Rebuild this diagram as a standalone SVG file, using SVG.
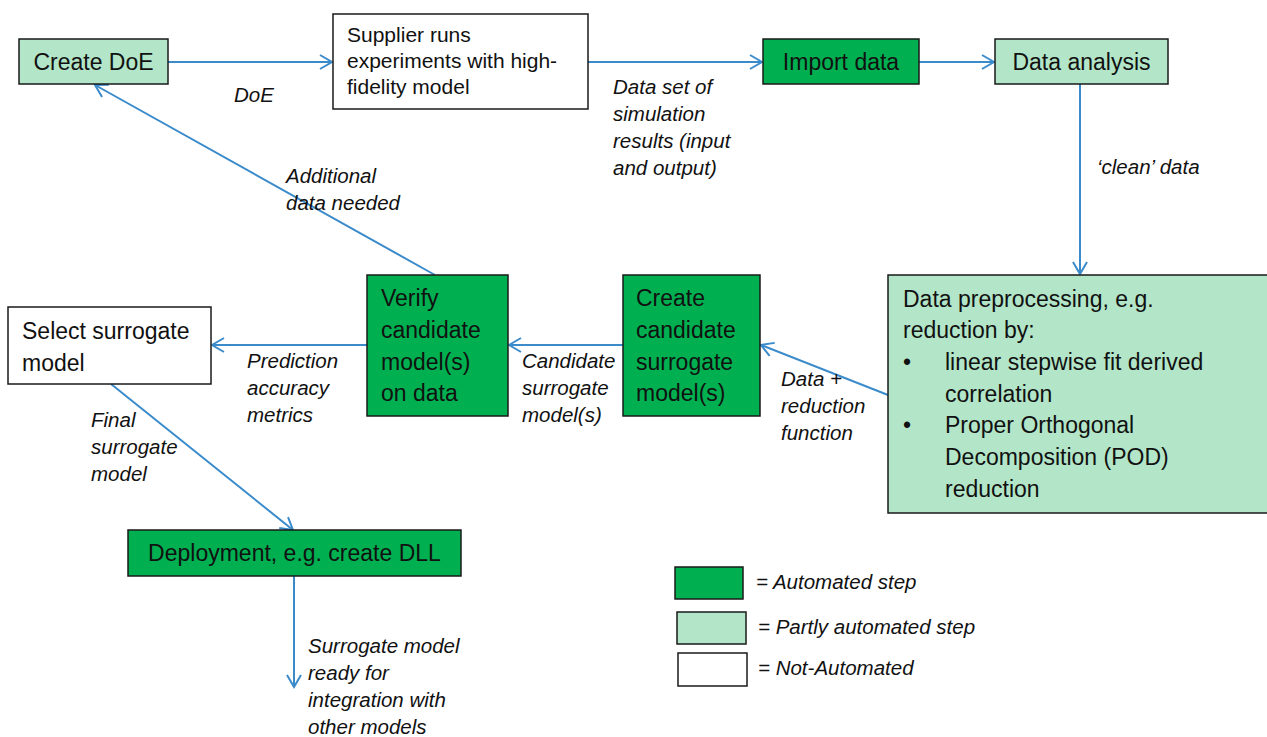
<svg xmlns="http://www.w3.org/2000/svg" width="1267" height="737" viewBox="0 0 1267 737">
<style>
.box{stroke:#1a1a1a;stroke-width:1.5}
.auto{fill:#00b050}
.part{fill:#b3e6c8}
.none{fill:#ffffff}
.t{font-family:"Liberation Sans",Arial,sans-serif;font-size:23px;fill:#111}
.ts{font-family:"Liberation Sans",Arial,sans-serif;font-size:21px;fill:#111}
.lb{font-family:"Liberation Sans",Arial,sans-serif;font-size:20.5px;font-style:italic;fill:#111}
.c{stroke:#3b8bcb;stroke-width:2;fill:none;marker-end:url(#ah)}
</style>
<defs>
<marker id="ah" markerUnits="userSpaceOnUse" markerWidth="16" markerHeight="18" refX="13" refY="8" orient="auto">
<path d="M1,1 L13,8 L1,15" fill="none" stroke="#3b8bcb" stroke-width="2"/>
</marker>
</defs>
<g id="connectors">
<line class="c" x1="168" y1="62" x2="332" y2="62"/>
<line class="c" x1="588" y1="62" x2="762" y2="62"/>
<line class="c" x1="919" y1="62" x2="994" y2="62"/>
<line class="c" x1="1080" y1="84" x2="1080" y2="274"/>
<line class="c" x1="888" y1="395" x2="761" y2="345"/>
<line class="c" x1="623" y1="345" x2="509" y2="345"/>
<line class="c" x1="367" y1="345" x2="212" y2="345"/>
<line class="c" x1="435" y1="275" x2="95" y2="85"/>
<line class="c" x1="111" y1="384" x2="293" y2="530"/>
<line class="c" x1="294" y1="576" x2="294" y2="687"/>
</g>
<g id="labels">
<text class="lb" x="234" y="102">DoE</text>
<text class="lb" x="613" y="94">Data set of</text>
<text class="lb" x="613" y="121">simulation</text>
<text class="lb" x="613" y="148">results (input</text>
<text class="lb" x="613" y="175">and output)</text>
<text class="lb" x="1097" y="174">‘clean’ data</text>
<text class="lb" x="286" y="183">Additional</text>
<text class="lb" x="286" y="210">data needed</text>
<text class="lb" x="247" y="368">Prediction</text>
<text class="lb" x="247" y="395">accuracy</text>
<text class="lb" x="247" y="422">metrics</text>
<text class="lb" x="522" y="368">Candidate</text>
<text class="lb" x="522" y="395">surrogate</text>
<text class="lb" x="522" y="422">model(s)</text>
<text class="lb" x="781" y="386">Data +</text>
<text class="lb" x="781" y="413">reduction</text>
<text class="lb" x="781" y="440">function</text>
<text class="lb" x="91" y="427">Final</text>
<text class="lb" x="91" y="454">surrogate</text>
<text class="lb" x="91" y="481">model</text>
<text class="lb" x="308" y="653">Surrogate model</text>
<text class="lb" x="308" y="680">ready for</text>
<text class="lb" x="308" y="707">integration with</text>
<text class="lb" x="308" y="734">other models</text>
</g>
<g id="create-doe">
<rect class="box part" x="19" y="39" width="149" height="45"/>
<text class="t" x="93.5" y="70" text-anchor="middle">Create DoE</text>
</g>
<g id="supplier">
<rect class="box none" x="333" y="14" width="255" height="95"/>
<text class="ts" x="347" y="42">Supplier runs</text>
<text class="ts" x="347" y="68">experiments with high-</text>
<text class="ts" x="347" y="94">fidelity model</text>
</g>
<g id="import-data">
<rect class="box auto" x="763" y="39" width="156" height="45"/>
<text class="t" x="841" y="70" text-anchor="middle">Import data</text>
</g>
<g id="data-analysis">
<rect class="box part" x="995" y="39" width="173" height="45"/>
<text class="t" x="1081.5" y="70" text-anchor="middle">Data analysis</text>
</g>
<g id="preprocessing">
<rect class="box part" x="888" y="275" width="385" height="238"/>
<text class="t" x="903" y="307">Data preprocessing, e.g.</text>
<text class="t" x="903" y="338">reduction by:</text>
<text class="t" x="903" y="370">•</text>
<text class="t" x="945" y="370">linear stepwise fit derived</text>
<text class="t" x="945" y="402">correlation</text>
<text class="t" x="903" y="433">•</text>
<text class="t" x="945" y="433">Proper Orthogonal</text>
<text class="t" x="945" y="465">Decomposition (POD)</text>
<text class="t" x="945" y="497">reduction</text>
</g>
<g id="create-candidate">
<rect class="box auto" x="623" y="275" width="137" height="141"/>
<text class="t" x="636" y="306">Create</text>
<text class="t" x="636" y="338">candidate</text>
<text class="t" x="636" y="370">surrogate</text>
<text class="t" x="636" y="401">model(s)</text>
</g>
<g id="verify">
<rect class="box auto" x="367" y="275" width="141" height="141"/>
<text class="t" x="381" y="306">Verify</text>
<text class="t" x="381" y="338">candidate</text>
<text class="t" x="381" y="370">model(s)</text>
<text class="t" x="381" y="401">on data</text>
</g>
<g id="select">
<rect class="box none" x="8" y="307" width="203" height="77"/>
<text class="t" x="22" y="339">Select surrogate</text>
<text class="t" x="22" y="371">model</text>
</g>
<g id="deployment">
<rect class="box auto" x="128" y="530" width="333" height="46"/>
<text class="t" x="294.5" y="561" text-anchor="middle">Deployment, e.g. create DLL</text>
</g>
<g id="legend">
<rect class="box auto" x="675" y="567" width="68" height="32"/>
<text class="lb" x="756" y="589">= Automated step</text>
<rect class="box part" x="677" y="612" width="69" height="32"/>
<text class="lb" x="758" y="634">= Partly automated step</text>
<rect class="box none" x="678" y="653" width="69" height="33"/>
<text class="lb" x="758" y="675">= Not-Automated</text>
</g>
</svg>
